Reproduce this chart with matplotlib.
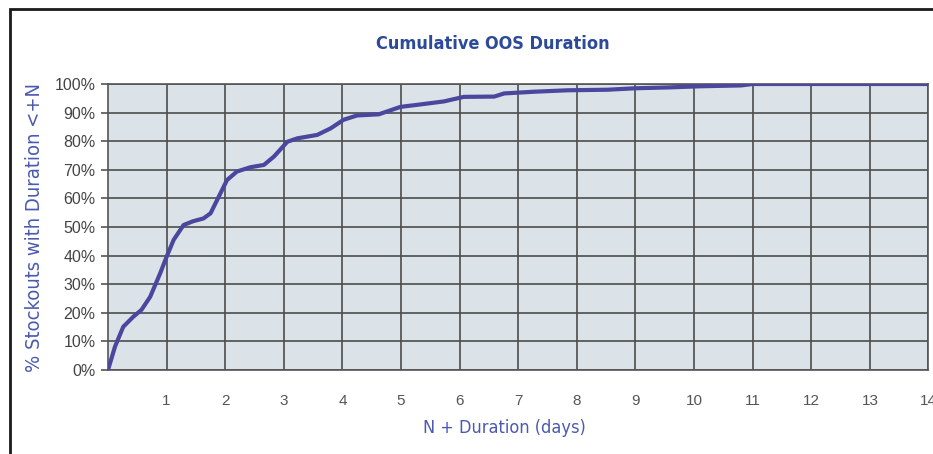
import matplotlib
matplotlib.use("Agg")
import matplotlib.pyplot as plt
from matplotlib.patches import Rectangle
from matplotlib.ticker import FuncFormatter

# Data
days = [0, 0.12, 0.26, 0.43, 0.57, 0.72, 0.89, 1.0, 1.12, 1.29, 1.45, 1.63, 1.75,
        1.89, 2.03, 2.2, 2.43, 2.66, 2.83, 3.06, 3.23, 3.57, 3.8, 4.02, 4.25, 4.62,
        4.99, 5.27, 5.73, 6.07, 6.59, 6.76, 7.27, 7.84, 8.53, 8.99, 9.56, 10.1,
        10.8, 11.0, 14.0]
pct = [0, 8.2, 15.1, 18.6, 21, 25.6, 33.8, 39.6, 45.5, 50.7, 52, 53, 54.8,
       60.6, 66.4, 69.4, 70.9, 71.7, 74.6, 79.8, 81, 82.2, 84.5, 87.5, 89, 89.4,
       92, 92.7, 93.9, 95.5, 95.6, 96.7, 97.3, 97.8, 98, 98.5, 98.8, 99.2,
       99.5, 100, 100]
x_ticks = list(range(1, 15))
y_ticks = list(range(0, 101, 10))

title = "Cumulative OOS Duration"
xlabel = "N + Duration (days)"
ylabel = "% Stockouts with Duration <+N"

plain = ["Liberation Sans", "DejaVu Sans"]

fig = plt.figure(figsize=(9.33, 4.54), dpi=100)
fig.patch.set_facecolor("white")

# outer frame of the original (cropped on the right/bottom)
fig.patches.append(Rectangle((9.5 / 933, -0.1), 1.2, 1.1 - 8.5 / 454,
                             transform=fig.transFigure, fill=False,
                             edgecolor="#1a1a1a", linewidth=2.0))

ax = fig.add_axes([108 / 933, (454 - 370) / 454, (928.5 - 108) / 933, (370 - 84) / 454])
ax.set_facecolor("#dce3e8")

ax.plot(days, pct, color="#4b479f", linewidth=3.0, solid_capstyle="round", zorder=3)

ax.set_xlim(0, 14)
ax.set_ylim(0, 100)
ax.set_xticks(x_ticks)
ax.set_yticks(y_ticks)
ax.yaxis.set_major_formatter(FuncFormatter(lambda v, p: f"{int(v)}%"))
ax.grid(True, color="#4d4d4d", linewidth=1.2)
ax.set_axisbelow(True)
for s in ax.spines.values():
    s.set_color("#555555")
    s.set_linewidth(1.2)

ax.tick_params(axis="x", length=0, pad=17, labelsize=11, labelcolor="#555555")
ax.tick_params(axis="y", length=5, width=1.2, color="#555555", pad=4,
               labelsize=11.5, labelcolor="#444444")
for lab in ax.get_xticklabels() + ax.get_yticklabels():
    lab.set_family(plain)

cond = dict(family=["DejaVu Sans"], fontstretch="condensed")
fig.text(493 / 933, 1 - 44 / 454, title, ha="center", va="center",
         fontsize=13, fontweight="bold", color="#2d4a99", **cond)
fig.text(504 / 933, 1 - 428 / 454, xlabel, ha="center", va="center",
         fontsize=13, color="#4a5ab0", **cond)
fig.text(35 / 933, 1 - 227 / 454, ylabel, ha="center", va="center", rotation=90,
         fontsize=14.5, color="#4a5ab0", **cond)

fig.savefig("out.png", dpi=100, facecolor="white")
